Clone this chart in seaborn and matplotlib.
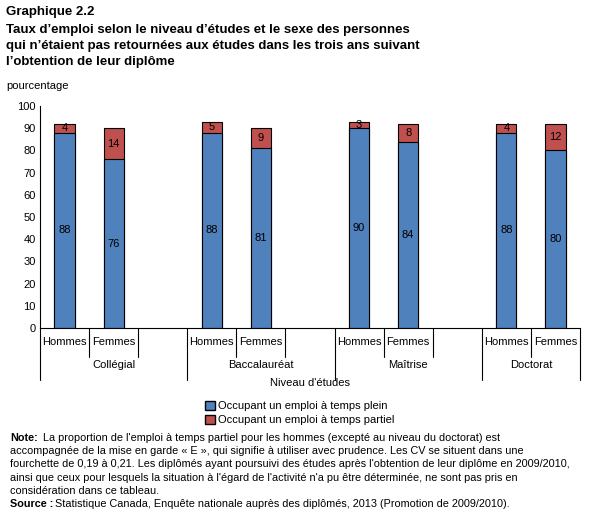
import matplotlib
matplotlib.use("Agg")
import matplotlib.pyplot as plt
import matplotlib.transforms as mtrans
import seaborn as sns
import pandas as pd
from matplotlib.patches import Patch

groups = ["Collégial", "Baccalauréat", "Maîtrise", "Doctorat"]
sexes = ["Hommes", "Femmes"]
plein = [88, 76, 88, 81, 90, 84, 88, 80]
partiel = [4, 14, 5, 9, 3, 8, 4, 12]
blue = "#4f81bd"; red = "#c0504d"

sns.set_theme(style="white")
plt.rcParams['font.family'] = ['Liberation Sans', 'DejaVu Sans']
plt.rcParams['text.color'] = 'black'
plt.rcParams['ytick.color'] = 'black'

slots = []
rows = []
k = 0
for gi, g in enumerate(groups):
    for s in sexes:
        key = f"{g}-{s}"
        slots.append(key)
        rows.append(dict(key=key, plein=plein[k], total=plein[k] + partiel[k]))
        k += 1
    if gi < len(groups) - 1:
        slots.append(f"blank{gi}")
df = pd.DataFrame(rows)

fig = plt.figure(figsize=(6.07, 5.12), dpi=100)
ax = fig.add_axes([40/607, (512-328)/512, 540/607, 222/512])
sns.barplot(data=df, x="key", y="total", order=slots, color=red, saturation=1,
            width=0.41, edgecolor="black", linewidth=0.8, ax=ax)
sns.barplot(data=df, x="key", y="plein", order=slots, color=blue, saturation=1,
            width=0.41, edgecolor="black", linewidth=0.8, ax=ax)
ax.set_xlim(-0.5, len(slots) - 0.5)
ax.set_ylim(0, 100)
ax.set_yticks(range(0, 101, 10))
ax.tick_params(axis='y', labelsize=8, length=0, pad=3, colors="black")
ax.set_xticks([]); ax.set_xlabel(""); ax.set_ylabel("")
for sp in ["top", "right"]:
    ax.spines[sp].set_visible(False)
for sp in ["left", "bottom"]:
    ax.spines[sp].set_color("black"); ax.spines[sp].set_linewidth(0.8)

for r in rows:
    x = slots.index(r["key"])
    ax.text(x, r["plein"] / 2, str(r["plein"]), ha="center", va="center", fontsize=8)
    ax.text(x, r["plein"] + (r["total"] - r["plein"]) / 2, str(r["total"] - r["plein"]),
            ha="center", va="center", fontsize=8)

tr = mtrans.blended_transform_factory(ax.transData, fig.transFigure)
def fy(p): return (512 - p) / 512
for gi, g in enumerate(groups):
    start = gi * 3
    ax.plot([start - 0.5] * 2, [fy(328), fy(380)], color="black", lw=0.8, transform=tr, clip_on=False)
    ax.plot([start + 0.5] * 2, [fy(328), fy(357)], color="black", lw=0.8, transform=tr, clip_on=False)
    if gi < len(groups) - 1:
        ax.plot([start + 1.5] * 2, [fy(328), fy(357)], color="black", lw=0.8, transform=tr, clip_on=False)
    for j, s in enumerate(sexes):
        ax.text(start + j, fy(342), s, ha="center", va="center", fontsize=8, transform=tr)
    gc = start + 1 if gi < len(groups) - 1 else start + 0.5
    ax.text(gc, fy(365), g, ha="center", va="center", fontsize=8, transform=tr)
ax.plot([10.5] * 2, [fy(328), fy(380)], color="black", lw=0.8, transform=tr, clip_on=False)

fig.text(6/607, fy(12), "Graphique 2.2", fontsize=9.5, fontweight="bold", va="center")
for i, line in enumerate(["Taux d’emploi selon le niveau d’études et le sexe des personnes",
                          "qui n’étaient pas retournées aux études dans les trois ans suivant",
                          "l’obtention de leur diplôme"]):
    fig.text(6/607, fy(30 + 16 * i), line, fontsize=9.5, fontweight="bold", va="center")
fig.text(6/607, fy(86), "pourcentage", fontsize=8, va="center")
fig.text(310/607, fy(383), "Niveau d'études", fontsize=8, ha="center", va="center")

fig.legend(handles=[Patch(facecolor=blue, edgecolor="black", label="Occupant un emploi à temps plein"),
                    Patch(facecolor=red, edgecolor="black", label="Occupant un emploi à temps partiel")],
           loc="center", bbox_to_anchor=(300/607, fy(413)), fontsize=8, frameon=False,
           handlelength=0.9, handleheight=0.9,
           handletextpad=0.3, borderpad=0.2, labelspacing=0.3)

fig.text(10/607, fy(438), "Note:", fontsize=7.8, fontweight="bold", va="center")
fig.text(43/607, fy(438), "La proportion de l'emploi à temps partiel pour les hommes (excepté au niveau du doctorat) est",
         fontsize=7.8, va="center")
note = ["accompagnée de la mise en garde « E », qui signifie à utiliser avec prudence. Les CV se situent dans une",
        "fourchette de 0,19 à 0,21. Les diplômés ayant poursuivi des études après l'obtention de leur diplôme en 2009/2010,",
        "ainsi que ceux pour lesquels la situation à l'égard de l'activité n'a pu être déterminée, ne sont pas pris en",
        "considération dans ce tableau."]
for i, line in enumerate(note):
    fig.text(10/607, fy(451 + 13.4 * i), line, fontsize=7.8, va="center")
fig.text(10/607, fy(504), "Source :", fontsize=7.8, fontweight="bold", va="center")
fig.text(55/607, fy(504), "Statistique Canada, Enquête nationale auprès des diplômés, 2013 (Promotion de 2009/2010).",
         fontsize=7.8, va="center")
fig.savefig("out.png", dpi=100)
